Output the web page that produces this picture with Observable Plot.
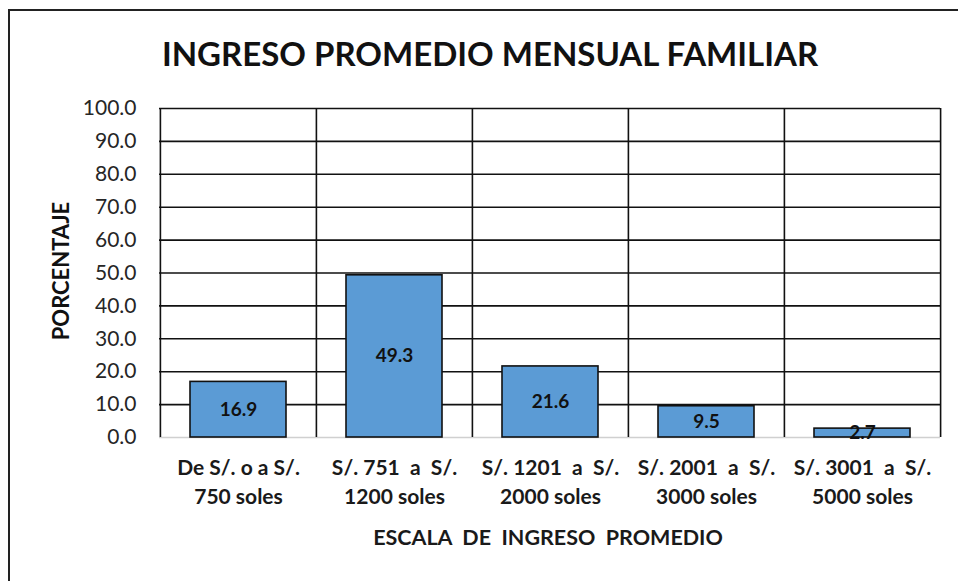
<!DOCTYPE html>
<html>
<head>
<meta charset="utf-8">
<script src="https://cdn.jsdelivr.net/npm/d3@7"></script>
<script src="https://cdn.jsdelivr.net/npm/@observablehq/plot@0.6"></script>
<style>
  html, body { margin: 0; padding: 0; background: #fff; }
  #wrap { position: relative; width: 958px; height: 581px; overflow: hidden; }
  #border { position: absolute; left: 8px; top: 9px; width: 1000px; height: 700px; border-left: 2px solid #222; border-top: 2px solid #222; }
  #chart { position: absolute; left: 0; top: 0; }
  svg text { white-space: pre; }
</style>
</head>
<body>
<div id="wrap"><div id="border"></div><div id="chart"></div></div>
<script>
const title = "INGRESO PROMEDIO MENSUAL FAMILIAR";
const yTitle = "PORCENTAJE";
const xTitle = "ESCALA  DE  INGRESO  PROMEDIO";
const categories = [
  "De S/. o a S/.\n750 soles",
  "S/. 751  a  S/.\n1200 soles",
  "S/. 1201  a  S/.\n2000 soles",
  "S/. 2001  a  S/.\n3000 soles",
  "S/. 3001  a  S/.\n5000 soles"
];
const values = [16.9, 49.3, 21.6, 9.5, 2.7];
const yTicks = [0, 10, 20, 30, 40, 50, 60, 70, 80, 90, 100];

const data = categories.map((c, i) => ({cat: c, val: values[i]}));
const W = 958, H = 581, mL = 159, mR = 18, mT = 108, mB = 144;
const bw = (W - mL - mR) / categories.length;
const font = "Lato, 'Open Sans', sans-serif";

const chart = Plot.plot({
  width: W, height: H,
  marginLeft: mL, marginRight: mR, marginTop: mT, marginBottom: mB,
  style: {background: "transparent", fontFamily: font},
  x: {type: "band", domain: categories, padding: 0, axis: null},
  y: {domain: [0, 100], axis: null},
  marks: [
    Plot.ruleY(yTicks.filter(d => d > 0), {y: d => d, stroke: "#111", strokeWidth: 1.6}),
    Plot.ruleY([0], {stroke: "#d0d0d0", strokeWidth: 1.5}),
    Plot.ruleX(categories, {x: d => d, y1: 0, y2: 100, dx: -bw / 2, stroke: "#111", strokeWidth: 1.6}),
    Plot.ruleX([categories[categories.length - 1]], {x: d => d, y1: 0, y2: 100, dx: bw / 2, stroke: "#111", strokeWidth: 1.6}),
    Plot.barY(data, {x: "cat", y: "val", fill: "#5B9BD5", stroke: "#111", strokeWidth: 1.6, insetLeft: 30, insetRight: 30}),
    Plot.text(data, {x: "cat", y: d => d.val / 2, text: d => d.val.toFixed(1), fontSize: 19, fontWeight: "bold", fill: "#111", fontFamily: font}),
    Plot.text(yTicks, {y: d => d, text: d => d.toFixed(1), frameAnchor: "left", textAnchor: "end", dx: -23, fontSize: 21, fill: "#262626", fontFamily: font}),
    Plot.text(categories, {x: d => d, text: d => d, frameAnchor: "bottom", lineAnchor: "top", dy: 17, fontSize: 21, lineHeight: 1.38, fontWeight: "bold", fill: "#1a1a1a", fontFamily: font}),
    Plot.text([xTitle], {text: d => d, frameAnchor: "bottom", lineAnchor: "middle", dy: 101, dx: -2, fontSize: 21.5, fontWeight: "bold", fill: "#1a1a1a", fontFamily: font}),
    Plot.text([yTitle], {text: d => d, frameAnchor: "left", textAnchor: "middle", rotate: -90, dx: -98, dy: -2, fontSize: 22, fontWeight: "bold", fill: "#111", fontFamily: font}),
    Plot.text([title], {text: d => d, frameAnchor: "top", lineAnchor: "middle", dy: -53, dx: -60, fontSize: 33, fontWeight: "bold", fill: "#111", fontFamily: font})
  ]
});
document.getElementById("chart").appendChild(chart);
</script>
</body>
</html>
